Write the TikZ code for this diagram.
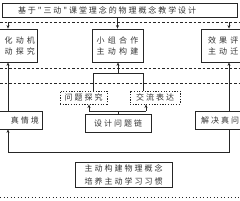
\documentclass[tikz,border=0pt]{standalone}
\usepackage{fontspec}
\newfontfamily\cjk{Noto Sans CJK SC}
\newfontfamily\cjkt[LetterSpace=24]{Noto Sans CJK SC}
\newfontfamily\cjkb[LetterSpace=40]{Noto Sans CJK SC}
\newfontfamily\cjkm[LetterSpace=25]{Noto Sans CJK SC}
\usetikzlibrary{arrows.meta}
\begin{document}
\begin{tikzpicture}[x=1pt,y=-1pt,
  box/.style={draw=black!85,line width=0.8pt,text=black!80,inner sep=0pt},
  dotbox/.style={draw=black!85,dash pattern=on 1.2pt off 1.5pt,line width=0.9pt,text=black!80,inner sep=0pt},
  sep/.style={draw=black!85,dash pattern=on 2.5pt off 2pt,line width=0.8pt},
  sepdot/.style={draw=black!85,dash pattern=on 1.3pt off 2.2pt,line width=0.9pt},
  line/.style={draw=black!85,line width=0.7pt},
  arr/.style={line,-{Stealth[length=3.5pt,width=3pt]}},
  tf/.style={font=\fontsize{8}{11}\selectfont\cjkt},
  bf/.style={font=\fontsize{8}{11}\selectfont\cjkb},
  mf/.style={font=\fontsize{8}{13}\selectfont\cjkm}]
\useasboundingbox (0,0) rectangle (240,200);
% separators
\draw[sep] (0,22) -- (240,22);
\draw[sep] (0,68) -- (240,68);
\draw[sep] (0,83) -- (240,83);
\draw[sepdot] (0,197) -- (240,197);
% nodes
\node[box,tf,minimum width=235,minimum height=14,text width=203,align=left] (title) at (119.5,10) {基于"三动"课堂理念的物理概念教学设计};
\node[box,bf,minimum width=57,minimum height=33,text width=53,align=right] (lbox) at (8.5,45.5) {化动机\\动探究};
\node[box,bf,minimum width=51,minimum height=33,align=center] (mbox) at (117.5,45.5) {小组合作\\主动构建};
\node[box,bf,minimum width=59,minimum height=33,text width=45,align=left] (rbox) at (230.5,45.5) {效果评\\主动迁};
\node[dotbox,mf,minimum width=47,minimum height=13] (q1) at (83.5,97.5) {问题探究};
\node[dotbox,mf,minimum width=50,minimum height=13] (q2) at (155,97.5) {交流表达};
\node[box,mf,minimum width=66,minimum height=18] (design) at (118,123) {设计问题链};
\node[box,mf,minimum width=62,minimum height=18,text width=56,align=right] (lsit) at (11,120) {真情境};
\node[box,mf,minimum width=65,minimum height=18,text width=53,align=left] (rsolve) at (227.5,120) {解决真问};
\node[box,mf,minimum width=97,minimum height=25,align=center] (goal) at (123.5,174.5) {主动构建物理概念\\培养主动学习习惯};
% top arrows
\coordinate (lx) at (8,22);
\coordinate (rx) at (229,22);
\draw[arr] (lx) -- (lx |- lbox.north);
\draw[arr] (rx) -- (rx |- rbox.north);
\draw[arr] (mbox.north |- title.south) -- (mbox.north);
% branch to middle
\coordinate (b0) at (118,73);
\coordinate (bl) at (93,73);
\coordinate (br) at (143,73);
\draw[arr] (b0) -- (b0 |- mbox.south);
\draw[line] (bl |- q1.north) -- (bl) -- (br) -- (br |- q2.north);
% design to questions
\coordinate (dl) at (89,111);
\coordinate (dr) at (146,111);
\draw[line] (design.north) -- (design.north |- dl);
\draw[line] (dl) -- (dr);
\draw[arr] (dl) -- (dl |- q1.south);
\draw[arr] (dr) -- (dr |- q2.south);
% sides
\draw[arr] (lx |- lsit.north) -- (lx |- lbox.south);
\draw[arr] (rx |- rsolve.north) -- (rx |- rbox.south);
\coordinate (ly) at (0,152);
\draw[arr] (rx |- rsolve.south) -- (rx |- ly) -- (lx |- ly) -- (lx |- lsit.south);
\end{tikzpicture}
\end{document}
